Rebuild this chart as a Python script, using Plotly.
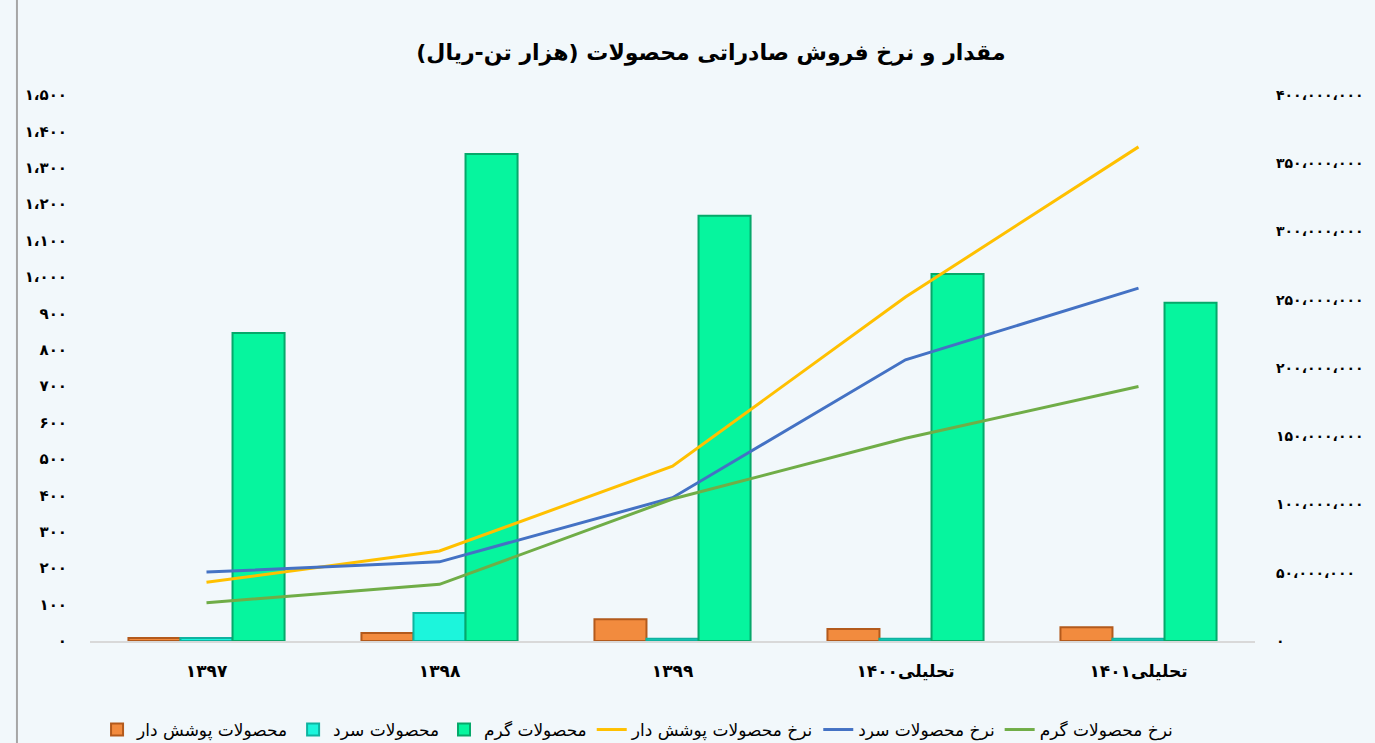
import plotly.graph_objects as go

# ---------------- data ----------------
categories = ["۱۳۹۷", "۱۳۹۸", "۱۳۹۹", "تحلیلی۱۴۰۰", "تحلیلی۱۴۰۱"]

coated_qty = [8, 22, 60, 33, 38]          # محصولات پوشش دار (thousand tons)
cold_qty = [8, 77, 6, 6, 6]               # محصولات سرد
hot_qty = [846, 1338, 1168, 1008, 929]    # محصولات گرم

coated_rate = [43_000_000, 66_000_000, 128_000_000, 252_000_000, 362_000_000]
cold_rate = [50_500_000, 58_000_000, 105_000_000, 206_000_000, 258_500_000]
hot_rate = [28_000_000, 41_500_000, 104_000_000, 148_500_000, 186_500_000]

left_ticks = list(range(0, 1501, 100))
right_ticks = list(range(0, 400_000_001, 50_000_000))

title_text = "مقدار و نرخ فروش صادراتی محصولات (هزار تن-ریال)"
names_bar = ["محصولات پوشش دار", "محصولات سرد", "محصولات گرم"]
names_line = ["نرخ محصولات پوشش دار", "نرخ محصولات سرد", "نرخ محصولات گرم"]

# ---------------- helpers ----------------
FA_DIGITS = str.maketrans("0123456789,", "۰۱۲۳۴۵۶۷۸۹،")


def fa(n):
    return f"{n:,}".translate(FA_DIGITS)


FONT = "DejaVu Sans"
BG = "#F2F8FB"

fig = go.Figure()

bar_styles = [
    ("#F28B3E", "#B35A1C"),
    ("#1CF5DC", "#0FB3A0"),
    ("#06F59E", "#06A86A"),
]
for name, vals, (fill, edge) in zip(names_bar, [coated_qty, cold_qty, hot_qty], bar_styles):
    fig.add_trace(go.Bar(
        x=categories, y=vals, name=name,
        marker=dict(color=fill, line=dict(color=edge, width=2)),
        yaxis="y",
    ))

line_colors = ["#FFC000", "#4472C4", "#70AD47"]
for name, vals, col in zip(names_line, [coated_rate, cold_rate, hot_rate], line_colors):
    fig.add_trace(go.Scatter(
        x=categories, y=vals, name=name, mode="lines",
        line=dict(color=col, width=3),
        yaxis="y2",
    ))

fig.update_layout(
    width=1375, height=743,
    paper_bgcolor=BG, plot_bgcolor=BG,
    margin=dict(l=90, r=120, t=95, b=102, autoexpand=False),
    font=dict(family=FONT, color="#000000"),
    barmode="group", bargap=0.33, bargroupgap=0,
    title=dict(
        text="<b>\u200f" + title_text + "\u200f</b>",
        x=0.517, xanchor="center", y=0.93, yanchor="middle",
        font=dict(size=22, family=FONT, color="#000"),
    ),
    xaxis=dict(
        showgrid=False, showline=True, linecolor="#D9D9D9", linewidth=1.5,
        ticks="", tickfont=dict(size=17, family=FONT, color="#000"),
        ticklabelstandoff=14, automargin=False,
        tickprefix="<b>", ticksuffix="</b>",
    ),
    yaxis=dict(
        range=[0, 1500], showgrid=False, zeroline=False, showline=False,
        tickvals=left_ticks, ticktext=["<b>" + fa(v) + "</b>" for v in left_ticks],
        tickfont=dict(size=15, family=FONT, color="#000"),
        ticklabelstandoff=22, automargin=False,
    ),
    yaxis2=dict(
        range=[0, 400_000_000], overlaying="y", side="right",
        showgrid=False, zeroline=False, showline=False,
        tickvals=right_ticks, ticktext=["<b>" + fa(v) + "</b>" for v in right_ticks],
        tickfont=dict(size=14, family=FONT, color="#000"),
        ticklabelstandoff=20, automargin=False,
    ),
    legend=dict(
        orientation="h", x=0.47, xanchor="center", y=-0.13, yanchor="top",
        font=dict(size=17, family=FONT, color="#000"),
        bgcolor="rgba(0,0,0,0)", itemwidth=30,
        traceorder="normal",
    ),
    showlegend=True,
)

# left image border line
fig.add_shape(type="line", xref="paper", yref="paper",
              x0=-0.0627, x1=-0.0627, y0=-0.19, y1=1.18,
              line=dict(color="#A6A6A6", width=2))

fig.write_html("out.html", config={"displayModeBar": False},
               post_script="document.body.style.margin='0';")
